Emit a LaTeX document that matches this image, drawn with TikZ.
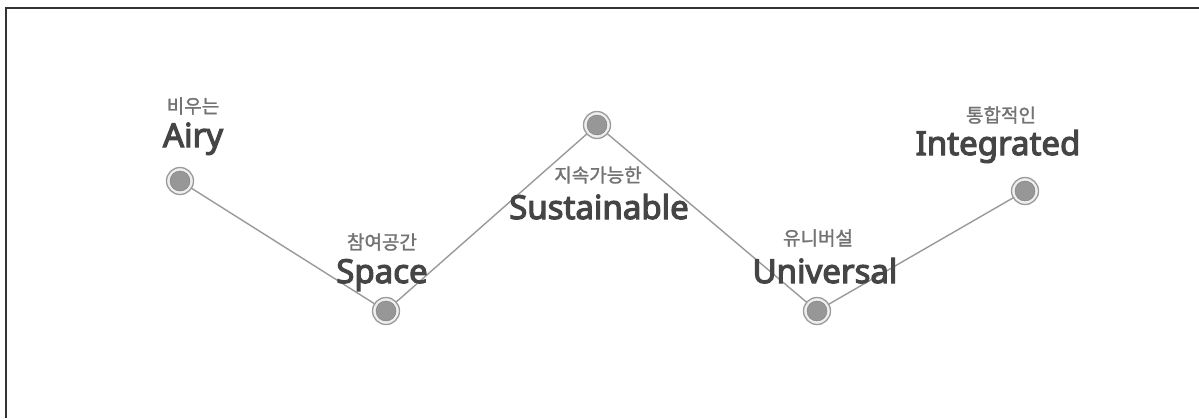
\documentclass[tikz,border=0pt]{standalone}
\usepackage{fontspec}
\setmainfont{Noto Sans}
\newfontfamily\enfont[FakeBold=3.5]{Noto Sans}
\newfontfamily\kr[FakeBold=1.5]{Noto Sans CJK KR}
\definecolor{txtdark}{HTML}{454545}
\definecolor{txtkr}{HTML}{737373}
\definecolor{linegray}{HTML}{9A9A9A}
\definecolor{dotgray}{HTML}{979797}
\definecolor{ringfill}{HTML}{EEEEEE}
\tikzset{
  en/.style={anchor=base, inner sep=0pt, text=txtdark, font=\enfont\fontsize{33}{33}\selectfont},
  ko/.style={anchor=center, inner sep=0pt, text=txtkr, font=\kr\fontsize{19}{19}\selectfont},
  conn/.style={draw=linegray, line width=1.4pt},
  ring/.style={circle, draw=linegray, line width=1.3pt, fill=ringfill, minimum size=27pt, inner sep=0pt},
  core/.style={circle, fill=dotgray, draw=linegray!80!black, line width=0.4pt, minimum size=20pt, inner sep=0pt},
}
\begin{document}
\begin{tikzpicture}[x=1pt,y=-1pt]
\useasboundingbox (0,0) rectangle (1199,418);
\fill[white] (0,0) rectangle (1199,418);
\draw[line width=2pt, color=black!80] (6,418) -- (6,8) -- (1199,8);
% node positions
\coordinate (pA) at (180,181);
\coordinate (pS) at (386,311);
\coordinate (pU) at (597,125);
\coordinate (pV) at (817,311);
\coordinate (pI) at (1025,191);
% connectors
\draw[conn] (pA) -- (pS) -- (pU) -- (pV) -- (pI);
% circles
\foreach \p in {pA,pS,pU,pV,pI}{
  \node[ring] (r\p) at (\p) {};
  \node[core] (c\p) at (\p) {};
}
% labels
\node[ko] (kA) at (193,106) {비우는};
\node[en] (eA) at (193,147) {Airy};
\node[ko] (kS) at (382,242) {참여공간};
\node[en] (eS) at (382,283) {Space};
\node[ko] (kU) at (598,175) {지속가능한};
\node[en] (eU) at (599,219) {Sustainable};
\node[ko] (kV) at (818,238) {유니버설};
\node[en] (eV) at (825,283) {Universal};
\node[ko] (kI) at (1001,115) {통합적인};
\node[en] (eI) at (998,155) {Integrated};
\end{tikzpicture}
\end{document}
